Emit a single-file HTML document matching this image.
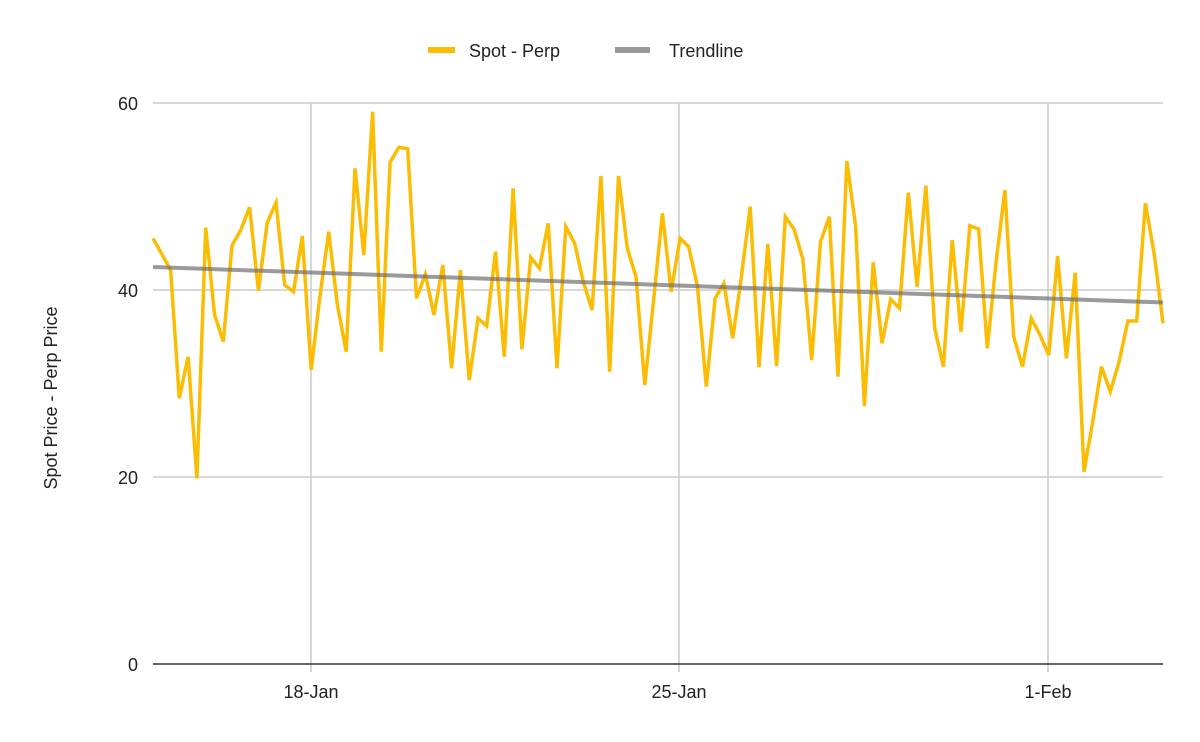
<!DOCTYPE html>
<html><head><meta charset="utf-8"><style>body{margin:0;background:#fff}svg{display:block}text{font-family:"Liberation Sans",Arial,sans-serif;fill:#222}</style></head><body>
<svg width="1200" height="742" viewBox="0 0 1200 742">
<g stroke="#cccccc" stroke-width="1.5">
<line x1="153" y1="103" x2="1163" y2="103"/><line x1="153" y1="290" x2="1163" y2="290"/><line x1="153" y1="477" x2="1163" y2="477"/>
<line x1="311" y1="103" x2="311" y2="672"/><line x1="679" y1="103" x2="679" y2="672"/><line x1="1048" y1="103" x2="1048" y2="672"/>
</g>
<line x1="153" y1="664" x2="1163" y2="664" stroke="#333" stroke-width="1.5"/>
<g font-size="18" text-anchor="end"><text x="138" y="110">60</text><text x="138" y="297">40</text><text x="138" y="484">20</text><text x="138" y="671">0</text></g>
<g font-size="18" text-anchor="middle"><text x="311" y="698">18-Jan</text><text x="679" y="698">25-Jan</text><text x="1048" y="698">1-Feb</text></g>
<text font-size="18" text-anchor="middle" transform="translate(57,398) rotate(-90)">Spot Price - Perp Price</text>
<line x1="428" y1="50" x2="455" y2="50" stroke="#fbbc04" stroke-width="6"/><text x="469" y="57" font-size="18">Spot - Perp</text>
<line x1="615" y1="50" x2="650" y2="50" stroke="#999" stroke-width="6"/><text x="669" y="57" font-size="18">Trendline</text>
<polyline id="d" fill="none" stroke="#fbbc04" stroke-width="3.5" stroke-linejoin="miter" points=""/>
<line x1="153" y1="267" x2="1163" y2="302.5" stroke="#6f6f6f" stroke-opacity="0.7" stroke-width="4"/>
</svg>
<script>
var y=[238.3,254,270,398.3,356.7,478.3,227.7,314.3,341.7,245.7,230,207.3,290.7,222.7,202.7,285,291.7,236,370,296.7,231.7,305,351.7,168.3,255,111.7,351.7,162.3,147.3,148.7,298.3,274.3,315,265,368.3,270,380,318.3,326,251.7,356.7,188.3,349.3,257.3,268.3,223.3,368.3,226.7,243.3,281.7,310,176,371.7,176,248.3,276.7,385,300,213.3,291.7,238.3,246.7,286.7,386.7,298.3,283.3,338.3,276.7,206.7,367.3,244,366,216.7,229.3,259.3,360,241.7,216.7,376.7,161,226,406,262.3,343.3,299.3,308.3,192.7,286.7,185.7,328.3,366.7,240,331.7,225.7,229,348.3,261.7,190,336.7,366.7,318.3,335,355,256,358.3,272.7,471.7,421.7,366.7,391.7,361.7,321,321,203.3,254,323.3];
var p=y.map(function(v,i){return (153+i*(1010/115)).toFixed(1)+","+v}).join(" ");
document.getElementById("d").setAttribute("points",p);
</script>
</body></html>
